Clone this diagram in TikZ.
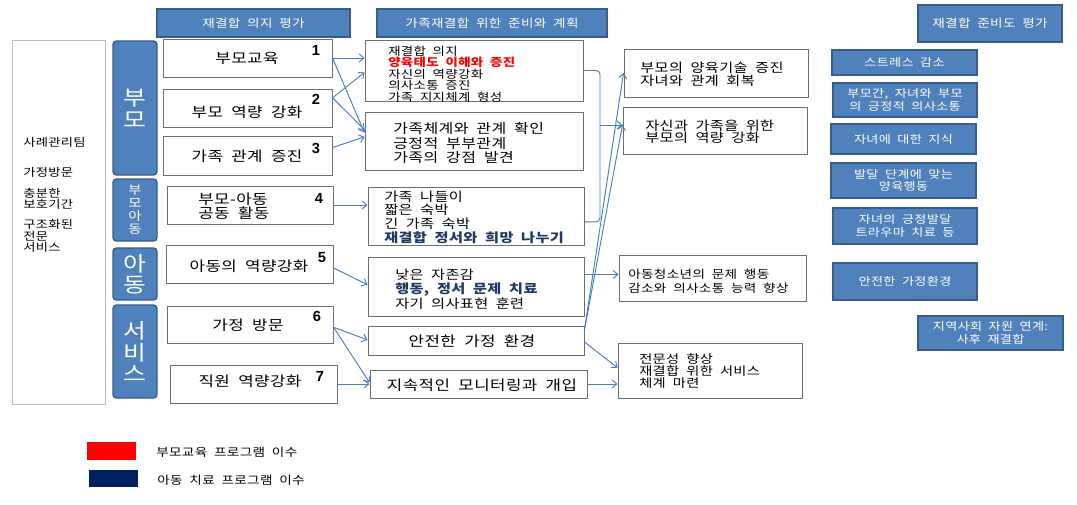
\documentclass[tikz,border=0pt]{standalone}
\usepackage{fontspec}
\setmainfont{Noto Sans CJK KR}[FakeStretch=1.2,WordSpace=2,LetterSpace=3]
\newfontfamily\numfont{Liberation Sans}
\usetikzlibrary{arrows.meta,calc,fit}
\definecolor{bfill}{HTML}{4F81BD}
\definecolor{bdraw}{HTML}{385D8A}
\definecolor{lnkc}{HTML}{4A7EBB}
\definecolor{gbord}{HTML}{6F6F6F}
\definecolor{navyt}{HTML}{1F3864}
\definecolor{legnavy}{HTML}{002060}
\newcommand\fsz[2]{\fontsize{#1}{#2}\selectfont}
\tikzset{
 hdr/.style={draw=bdraw, fill=bfill, line width=1.2pt, inner sep=0pt},
 hdrt/.style={inner sep=0pt, text=white, align=center, font=\fsz{8.5}{10}},
 vbx/.style={draw=bdraw, fill=bfill, line width=1pt, rounded corners=2.5pt, inner sep=0pt},
 vbxt/.style={inner sep=0pt, text=white, align=center},
 bbx/.style={draw=bdraw, fill=bfill, line width=1pt, inner sep=0pt},
 bbxt/.style={inner sep=0pt, text=white, align=center, font=\fsz{8.2}{9.2}},
 wbx/.style={draw=gbord, fill=white, line width=0.75pt, inner sep=0pt},
 ctxt/.style={inner sep=0pt, align=center},
 txt/.style={inner sep=0pt, align=left, anchor=west},
 num/.style={inner sep=0pt, font=\numfont\bfseries\fsz{11}{12}},
 lnk/.style={draw=lnkc, line width=0.7pt},
 conn/.style={lnk, -{Straight Barb[length=3.5pt,width=6pt]}},
}
\begin{document}
\begin{tikzpicture}[x=0.75pt,y=-0.75pt]
\useasboundingbox[fill=white] (0,0) rectangle (1077,504);
% headers
\node[hdr, fit={(157,9)(350,37)}] (h1) {};
\node[hdrt] (h1t) at (h1.center) {재결합 의지 평가};
\node[hdr, fit={(377,9)(607,37)}] (h2) {};
\node[hdrt] (h2t) at (h2.center) {가족재결합 위한 준비와 계획};
\node[hdr, fit={(918,5)(1062,42)}] (h3) {};
\node[hdrt] (h3t) at (h3.center) {재결합 준비도 평가};
% left box
\node[wbx, draw=gray!55, fit={(12,40)(105,404)}] (lb) {};
\node[txt, font=\fsz{8.3}{8.6}] (l1) at (23,142) {사례관리팀};
\node[txt, font=\fsz{8.3}{8.6}] (l2) at (23,172) {가정방문};
\node[txt, font=\fsz{8.3}{8.6}] (l3) at (23,199) {충분한\\보호기간};
\node[txt, font=\fsz{8.3}{8.4}] (l4) at (23,236) {구조화된\\전문\\서비스};
% vertical group boxes
\node[vbx, fit={(113,41)(157,175)}] (v1) {};
\node[vbxt, font=\fsz{15.5}{16.5}] (v1t) at (v1.center) {부\\모};
\node[vbx, fit={(113,179)(157,241)}] (v2) {};
\node[vbxt, font=\fsz{9}{9.8}] (v2t) at (v2.center) {부\\모\\아\\동};
\node[vbx, fit={(113,248)(157,300)}] (v3) {};
\node[vbxt, font=\fsz{15.5}{15.5}] (v3t) at (v3.center) {아\\동};
\node[vbx, fit={(113,305)(157,398)}] (v4) {};
\node[vbxt, font=\fsz{15.5}{16}] (v4t) at (v4.center) {서\\비\\스};
% program boxes
\node[wbx, fit={(163,39)(332,77)}] (p1) {};
\node[ctxt, font=\fsz{10.5}{12}] (p1t) at (247,58) {부모교육};
\node[wbx, fit={(163,89)(332,127)}] (p2) {};
\node[ctxt, font=\fsz{10.5}{12}] (p2t) at (247,112) {부모 역량 강화};
\node[wbx, fit={(163,136)(332,175)}] (p3) {};
\node[ctxt, font=\fsz{10.5}{12}] (p3t) at (247,156) {가족 관계 증진};
\node[wbx, fit={(167,186)(333,224)}] (p4) {};
\node[txt, font=\fsz{10.5}{10.5}] (p4t) at (198,206) {부모-아동\\공동 활동};
\node[wbx, fit={(166,245)(333,283)}] (p5) {};
\node[ctxt, font=\fsz{10.5}{12}] (p5t) at (249,266) {아동의 역량강화};
\node[wbx, fit={(167,306)(333,343)}] (p6) {};
\node[ctxt, font=\fsz{10.5}{12}] (p6t) at (248,325) {가정 방문};
\node[wbx, fit={(170,365)(337,403)}] (p7) {};
\node[ctxt, font=\fsz{10.5}{12}] (p7t) at (250,381) {직원 역량강화};
\node[num] (n1) at (316,50) {1};
\node[num] (n2) at (316,99) {2};
\node[num] (n3) at (316,148) {3};
\node[num] (n4) at (319,198) {4};
\node[num] (n5) at (322,258) {5};
\node[num] (n6) at (317,316) {6};
\node[num] (n7) at (320,376) {7};
% middle boxes
\node[wbx, fit={(365,40)(583,101)}] (A) {};
\node[txt, font=\fsz{8.4}{8.7}] (At) at (388,74) {재결합 의지\\{\bfseries\color{red}양육태도 이해와 증진}\\자신의 역량강화\\의사소통 증진\\가족 지지체계 형성};
\node[wbx, fit={(365,112)(583,170)}] (B) {};
\node[txt, font=\fsz{10}{10.8}] (Bt) at (393,143) {가족체계와 관계 확인\\긍정적 부부관계\\가족의 강점 발견};
\node[wbx, fit={(368,187)(584,245)}] (C) {};
\node[txt, font=\fsz{9.5}{10.2}] (Ct) at (384,217) {가족 나들이\\짧은 숙박\\긴 가족 숙박\\{\bfseries\color{navyt}재결합 정서와 희망 나누기}};
\node[wbx, fit={(368,257)(584,316)}] (D) {};
\node[txt, font=\fsz{9.5}{11}] (Dt) at (395,289) {낮은 자존감\\{\bfseries\color{navyt}행동, 정서 문제 치료}\\자기 의사표현 훈련};
\node[wbx, fit={(368,326)(584,355)}] (E) {};
\node[ctxt, font=\fsz{10.5}{12}] (Et) at (472,341) {안전한 가정 환경};
\node[wbx, fit={(370,370)(587,398)}] (F) {};
\node[ctxt, font=\fsz{10.5}{12}] (Ft) at (482,385) {지속적인 모니터링과 개입};
% outcome boxes
\node[wbx, fit={(624,49)(808,97)}] (G) {};
\node[txt, font=\fsz{9.5}{9.8}] (Gt) at (640,74) {부모의 양육기술 증진\\자녀와 관계 회복};
\node[wbx, fit={(623,107)(807,154)}] (H) {};
\node[txt, font=\fsz{9.5}{9}] (Ht) at (645,132) {자신과 가족을 위한\\부모의 역량 강화};
\node[wbx, fit={(619,255)(806,301)}] (I) {};
\node[txt, font=\fsz{8.5}{10.5}] (It) at (628,281) {아동청소년의 문제 행동\\감소와 의사소통 능력 향상};
\node[wbx, fit={(618,343)(802,398)}] (J) {};
\node[txt, font=\fsz{8.9}{9}] (Jt) at (639,371) {전문성 향상\\재결합 위한 서비스\\체계 마련};
% readiness boxes
\node[bbx, fit={(832,50)(977,75)}] (r1) {};
\node[bbxt] (r1t) at (r1.center) {스트레스 감소};
\node[bbx, fit={(833,83)(977,117)}] (r2) {};
\node[bbxt] (r2t) at (r2.center) {부모간, 자녀와 부모\\의 긍정적 의사소통};
\node[bbx, fit={(831,124)(976,154)}] (r3) {};
\node[bbxt] (r3t) at (r3.center) {자녀에 대한 지식};
\node[bbx, fit={(831,163)(976,198)}] (r4) {};
\node[bbxt] (r4t) at (r4.center) {발달 단계에 맞는\\양육행동};
\node[bbx, fit={(833,208)(977,244)}] (r5) {};
\node[bbxt] (r5t) at (r5.center) {자녀의 긍정발달\\트라우마 치료 등};
\node[bbx, fit={(833,263)(977,300)}] (r6) {};
\node[bbxt] (r6t) at (r6.center) {안전한 가정환경};
\node[bbx, fit={(918,316)(1063,350)}] (r7) {};
\node[bbxt] (r7t) at (r7.center) {지역사회 자원 연계:\\사후 재결합};
% legend
\node[fill=red, inner sep=0pt, fit={(87,442)(136,460)}] (lgr) {};
\node[fill=legnavy, inner sep=0pt, fit={(89,470)(138,487)}] (lgn) {};
\node[txt, font=\fsz{8.5}{10}] (lgt1) at (156,452) {부모교육 프로그램 이수};
\node[txt, font=\fsz{8.5}{10}] (lgt2) at (157,480) {아동 치료 프로그램 이수};
% connectors left
\draw[conn] (p1.east) -- (A.west |- p1.east);
\draw[conn] (p1.east) -- ($(B.north west)!0.36!(B.south west)$);
\coordinate (p2o) at ($(p2.north east)!0.24!(p2.south east)$);
\draw[conn] (p2o) -- ($(A.north west)!0.53!(A.south west)$);
\draw[conn] (p2o) -- ($(B.north west)!0.31!(B.south west)$);
\coordinate (p3o) at ($(p3.north east)!0.3!(p3.south east)$);
\draw[conn] (p3o) -- ($(B.north west)!0.43!(B.south west)$);
\draw[conn] (p4.east) -- (C.west |- p4.east);
\coordinate (p5o) at ($(p5.north east)!0.6!(p5.south east)$);
\draw[conn] (p5o) -- ($(D.north west)!0.47!(D.south west)$);
\coordinate (p6o) at ($(p6.north east)!0.57!(p6.south east)$);
\draw[conn] (p6o) -- ($(E.north west)!0.48!(E.south west)$);
\draw[conn] (p6o) -- ($(F.north west)!0.45!(F.south west)$);
\draw[conn] (p7.east) -- (F.west |- p7.east);
% connectors right
\coordinate (br) at (600,125);
\draw[lnk, rounded corners=3pt] (A.east) -| (br);
\coordinate (Cr) at ($(C.north east)!0.6!(C.south east)$);
\draw[lnk, rounded corners=3pt] (Cr) -| (br);
\draw[conn] (br) -- (H.west |- br);
\coordinate (Eo) at ($(E.north east)!0.14!(E.south east)$);
\draw[conn] (Eo) -- ($(G.north west)!0.5!(G.south west)$);
\draw[conn] (Eo) -- ($(H.north west)!0.38!(H.south west)$);
\coordinate (Do) at ($(D.north east)!0.3!(D.south east)$);
\draw[conn] (Do) -- (I.west |- Do);
\coordinate (Eo2) at ($(E.north east)!0.55!(E.south east)$);
\draw[conn] (Eo2) -- ($(J.north west)!0.45!(J.south west)$);
\draw[conn] (F.east) -- (J.west |- F.east);
\end{tikzpicture}
\end{document}
